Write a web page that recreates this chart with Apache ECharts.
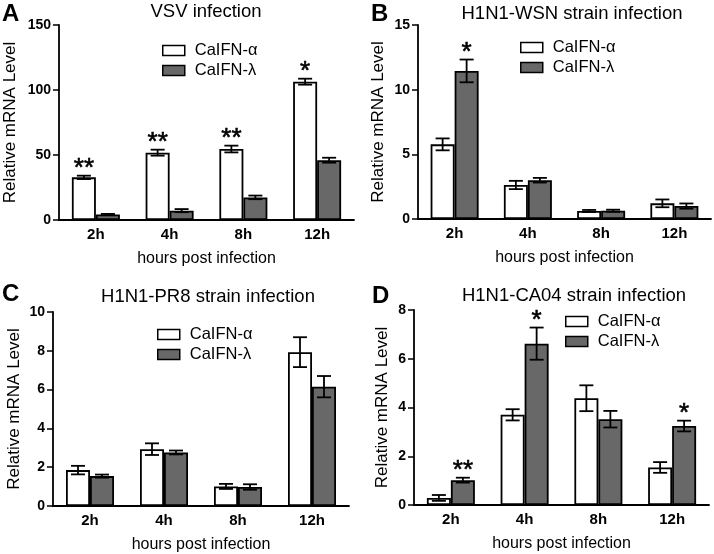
<!DOCTYPE html>
<html><head><meta charset="utf-8">
<script src="https://cdn.jsdelivr.net/npm/echarts@6/dist/echarts.min.js"></script>
<style>html,body{margin:0;padding:0;background:#fff}#c{width:714px;height:554px}</style>
</head><body><div id="c"></div>
<script>
// ---------- data ----------
const categories = ['2h', '4h', '8h', '12h'];
const seriesNames = ['CaIFN-α', 'CaIFN-λ'];
const panelLetters = ['A', 'B', 'C', 'D'];
const panelTitles = ['VSV infection', 'H1N1-WSN strain infection', 'H1N1-PR8 strain infection', 'H1N1-CA04 strain infection'];
const xAxisTitle = 'hours post infection';
const yAxisTitle = 'Relative mRNA Level';
const yMax = [150, 15, 10, 8];
const yInterval = [50, 5, 2, 2];

const aAlpha = [32.8, 51.8, 54.6, 106.4];
const aAlphaErr = [1.3, 2.3, 2.6, 2.3];
const aLambda = [4.2, 7.2, 17.4, 46.0];
const aLambdaErr = [0.5, 1.2, 1.4, 1.9];
const aStarsAlpha = ['**', '**', '**', '*'];
const aStarsLambda = ['', '', '', ''];

const bAlpha = [5.77, 2.63, 0.62, 1.21];
const bAlphaErr = [0.46, 0.32, 0.08, 0.3];
const bLambda = [11.45, 3.0, 0.64, 1.0];
const bLambdaErr = [0.88, 0.18, 0.08, 0.2];
const bStarsAlpha = ['', '', '', ''];
const bStarsLambda = ['*', '', '', ''];

const cAlpha = [1.85, 2.93, 1.01, 7.93];
const cAlphaErr = [0.22, 0.3, 0.13, 0.77];
const cLambda = [1.54, 2.76, 0.98, 6.15];
const cLambdaErr = [0.08, 0.1, 0.14, 0.55];
const cStarsAlpha = ['', '', '', ''];
const cStarsLambda = ['', '', '', ''];

const dAlpha = [0.29, 3.70, 4.38, 1.54];
const dAlphaErr = [0.12, 0.23, 0.53, 0.22];
const dLambda = [1.02, 6.62, 3.52, 3.24];
const dLambdaErr = [0.1, 0.66, 0.34, 0.22];
const dStarsAlpha = ['', '', '', ''];
const dStarsLambda = ['**', '*', '', '*'];

// ---------- layout / style ----------
const FONT = '"Liberation Sans", Arial, sans-serif';
const GREY = '#686868';
const BAR_W = 24;
const grids = [
  {left: 59, top: 25, width: 295, height: 195},
  {left: 418, top: 25, width: 293, height: 194},
  {left: 53, top: 312, width: 296, height: 194},
  {left: 414, top: 310, width: 295, height: 195}
];
const yNameGap = [40, 31, 30, 23];
const legendPos = [[162, 42], [520, 39], [157, 326], [565, 313]];
const titlePos = [[206, 2], [572, 4], [208, 287], [574, 286]];
const letterPos = [[2, 2], [371, 2], [2, 282], [372, 284]];

const panels = [
  [aAlpha, aAlphaErr, aLambda, aLambdaErr, aStarsAlpha, aStarsLambda],
  [bAlpha, bAlphaErr, bLambda, bLambdaErr, bStarsAlpha, bStarsLambda],
  [cAlpha, cAlphaErr, cLambda, cLambdaErr, cStarsAlpha, cStarsLambda],
  [dAlpha, dAlphaErr, dLambda, dLambdaErr, dStarsAlpha, dStarsLambda]
];

function makeRender(starsA, starsL) {
  return function (params, api) {
    const cat = api.value(0), mean = api.value(1), err = api.value(2), side = api.value(3);
    const c = api.coord([cat, mean]);
    const x = c[0] + (side === 0 ? -1 : 1) * BAR_W / 2;
    const yTop = api.coord([cat, mean + err])[1];
    const yBot = api.coord([cat, Math.max(0, mean - err)])[1];
    const hw = 7;
    const st = {stroke: '#000', lineWidth: 1.8};
    const children = [
      {type: 'line', shape: {x1: x, y1: yTop, x2: x, y2: yBot}, style: st},
      {type: 'line', shape: {x1: x - hw, y1: yTop, x2: x + hw, y2: yTop}, style: st},
      {type: 'line', shape: {x1: x - hw, y1: yBot, x2: x + hw, y2: yBot}, style: st}
    ];
    const star = side === 0 ? starsA[cat] : starsL[cat];
    if (star) {
      children.push({type: 'text', x: x, y: yTop - 7,
        style: {text: star, fill: '#000', font: '26px ' + FONT, align: 'center', verticalAlign: 'middle',
          stroke: '#000', lineWidth: 0.6}});
    }
    return {type: 'group', children: children};
  };
}

const option = {
  animation: false,
  backgroundColor: '#fff',
  textStyle: {fontFamily: FONT},
  grid: grids.map(g => Object.assign({containLabel: false}, g)),
  legend: legendPos.map(p => ({
    left: p[0], top: p[1], orient: 'vertical', padding: 0,
    itemWidth: 22, itemHeight: 10, itemGap: 3, icon: 'rect', selectedMode: false,
    data: seriesNames,
    itemStyle: {borderColor: '#000', borderWidth: 1.5},
    textStyle: {fontSize: 16.5, color: '#000', fontFamily: FONT, padding: [0, 0, 0, 5]}
  })),
  xAxis: grids.map((g, i) => ({
    type: 'category', gridIndex: i, data: categories,
    axisLine: {lineStyle: {color: '#000', width: 1.8}},
    axisTick: {alignWithLabel: true, length: 5, lineStyle: {color: '#000', width: 1.5}},
    axisLabel: {fontWeight: 'bold', fontSize: 15, color: '#000', margin: 7, fontFamily: FONT},
    name: xAxisTitle, nameLocation: 'middle', nameGap: 31,
    nameTextStyle: {fontSize: 16, color: '#000', fontFamily: FONT}
  })),
  yAxis: grids.map((g, i) => ({
    type: 'value', gridIndex: i, min: 0, max: yMax[i], interval: yInterval[i],
    splitLine: {show: false},
    axisLine: {show: true, lineStyle: {color: '#000', width: 1.8}},
    axisTick: {show: true, length: 6, lineStyle: {color: '#000', width: 1.5}},
    axisLabel: {fontWeight: 'bold', fontSize: 14, color: '#000', margin: 8, fontFamily: FONT},
    name: yAxisTitle, nameLocation: 'middle', nameGap: yNameGap[i], nameRotate: 90,
    nameTextStyle: {fontSize: 17, color: '#000', fontFamily: FONT}
  })),
  graphic: [].concat(
    panelTitles.map((t, i) => ({type: 'text', x: titlePos[i][0], y: titlePos[i][1],
      style: {text: t, fill: '#000', font: '18.5px ' + FONT, align: 'center', verticalAlign: 'top'}})),
    panelLetters.map((t, i) => ({type: 'text', x: letterPos[i][0], y: letterPos[i][1],
      style: {text: t, fill: '#000', font: 'bold 24px ' + FONT, align: 'left', verticalAlign: 'top'}}))
  ),
  series: []
};

panels.forEach((p, i) => {
  const [al, alE, la, laE, sA, sL] = p;
  option.series.push({
    type: 'bar', name: seriesNames[0], xAxisIndex: i, yAxisIndex: i, data: al,
    barWidth: BAR_W, barGap: '0%',
    itemStyle: {color: '#fff', borderColor: '#000', borderWidth: 1.8}
  });
  option.series.push({
    type: 'bar', name: seriesNames[1], xAxisIndex: i, yAxisIndex: i, data: la,
    barWidth: BAR_W, barGap: '0%',
    itemStyle: {color: GREY, borderColor: '#000', borderWidth: 1.8}
  });
  const errData = [];
  categories.forEach((c, k) => {
    errData.push([k, al[k], alE[k], 0]);
    errData.push([k, la[k], laE[k], 1]);
  });
  option.series.push({
    type: 'custom', xAxisIndex: i, yAxisIndex: i, data: errData, z: 10, clip: false,
    encode: {x: 0, y: 1},
    renderItem: makeRender(sA, sL)
  });
});

const chart = echarts.init(document.getElementById('c'), null, {renderer: 'canvas'});
chart.setOption(option);
</script>
</body></html>
